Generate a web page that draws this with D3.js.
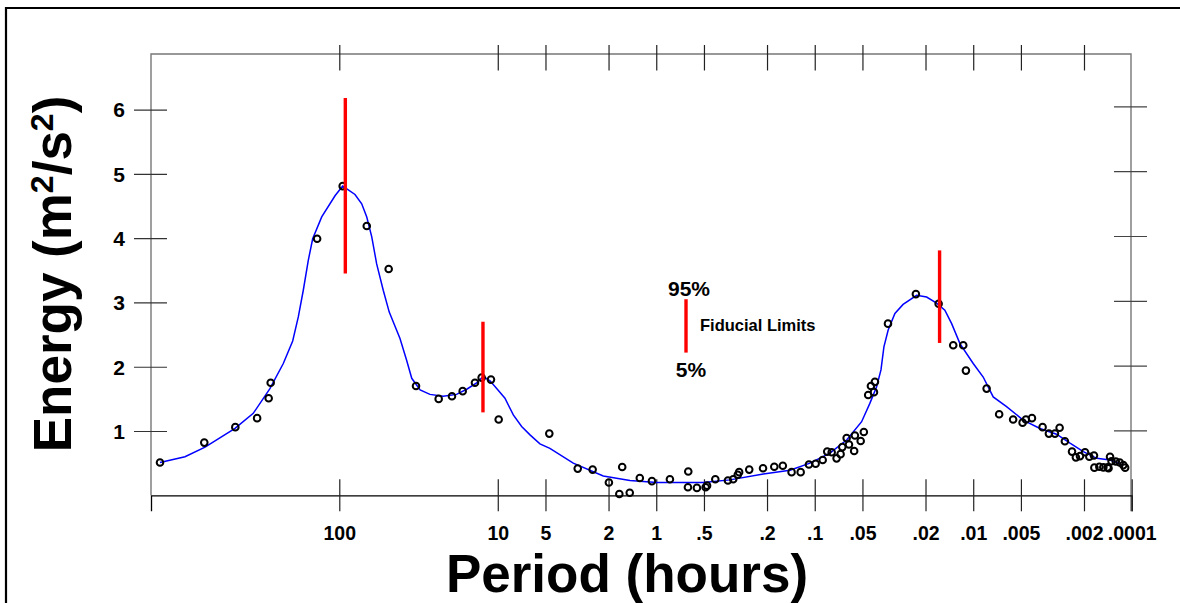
<!DOCTYPE html>
<html>
<head>
<meta charset="utf-8">
<script src="https://cdn.jsdelivr.net/npm/d3@7"></script>
<style>
  body { margin: 0; background: #fff; }
  svg { display: block; }
  text { font-family: "Liberation Sans", Arial, sans-serif; font-weight: bold; fill: #000; }
</style>
</head>
<body>
<svg id="chart" width="1180" height="603"></svg>
<script>
// Period axis ticks (hours) and their printed labels
const periodTicks = [100, 10, 5, 2, 1, 0.5, 0.2, 0.1, 0.05, 0.02, 0.01, 0.005, 0.002, 0.001];
const periodTickLabels = ["100", "10", "5", "2", "1", ".5", ".2", ".1", ".05", ".02", ".01", ".005", ".002", ".0001"];
const topPeriodTicks = [100, 10, 5, 2, 1, 0.5, 0.2, 0.1, 0.05, 0.02, 0.01, 0.005, 0.002];
const energyTicks = [1, 2, 3, 4, 5, 6];

// Smoothed spectrum (period in hours, energy in m^2/s^2)
const curvePeriod = [1353, 941, 703, 455, 349, 274, 225.6, 196.8, 181.4, 168.7, 156.9, 147.2, 129.1, 106.4, 95.2,
  79.6, 72.2, 67.1, 62.4, 58.1, 52.8, 48.4, 41.4, 37.6, 34.9, 30.9, 26.8, 22.1, 18.2, 15.7, 13.6, 12.35, 11.2,
  10.16, 9.01, 7.98, 7.07, 6.26, 5.42, 4.69, 3.34, 2.16, 1.466, 0.994, 0.505, 0.343, 0.211, 0.1433, 0.1072,
  0.0802, 0.0629, 0.0506, 0.0449, 0.0407, 0.0382, 0.0366, 0.0344, 0.0312, 0.0277, 0.02276, 0.01968, 0.01702,
  0.0151, 0.01368, 0.01213, 0.0100, 0.00865, 0.00748, 0.00616, 0.00484, 0.00379, 0.00298, 0.00245, 0.00202,
  0.00166, 0.00137, 0.00113];
const curveEnergy = [0.51, 0.60, 0.75, 1.04, 1.275, 1.66, 2.05, 2.40, 2.775, 3.19, 3.655, 3.99, 4.33, 4.66, 4.81,
  4.68, 4.535, 4.33, 4.02, 3.60, 3.19, 2.85, 2.44, 2.10, 1.82, 1.64, 1.57, 1.54, 1.57, 1.65, 1.75, 1.85, 1.78,
  1.66, 1.51, 1.25, 1.07, 0.94, 0.80, 0.73, 0.50, 0.30, 0.23, 0.20, 0.20, 0.24, 0.33, 0.39, 0.50,
  0.655, 0.86, 1.145, 1.43, 1.69, 1.95, 2.31, 2.57, 2.83, 2.97, 3.11, 3.085, 2.99,
  2.88, 2.67, 2.36, 2.05, 1.84, 1.53, 1.38, 1.17, 1.04, 0.95, 0.81, 0.68,
  0.575, 0.55, 0.47];

// Raw spectral estimates
const obsPeriod = [1353, 711, 453, 330, 279, 271, 138, 95.2, 67.1, 48.8, 32.8, 23.6, 19.45, 16.65, 13.93, 12.64,
  11.04, 9.87, 4.73, 3.13, 2.52, 1.99, 1.71, 1.64, 1.47, 1.27, 1.065, 0.82, 0.628, 0.631, 0.554, 0.488, 0.478,
  0.424, 0.353, 0.327, 0.306, 0.30, 0.259, 0.212, 0.180, 0.159, 0.140, 0.1227, 0.1088, 0.0987, 0.0891, 0.0834,
  0.0782, 0.0728, 0.0687, 0.067, 0.0629, 0.0608, 0.0564, 0.0558, 0.0513, 0.049, 0.046, 0.0442, 0.0423, 0.0417,
  0.0345, 0.023, 0.01653, 0.01337, 0.01156, 0.01112, 0.00823, 0.00686, 0.0056, 0.00488, 0.00465, 0.00426,
  0.00365, 0.00333, 0.00305, 0.00285, 0.00264, 0.00238, 0.00225, 0.00212, 0.00197, 0.00185, 0.00173, 0.00172,
  0.0016, 0.00151, 0.00142, 0.00140, 0.00137, 0.00134, 0.00126, 0.00119, 0.00113, 0.0011];
const obsEnergy = [0.51, 0.82, 1.06, 1.20, 1.51, 1.75, 3.99, 4.81, 4.19, 3.52, 1.70, 1.50, 1.54, 1.62, 1.75, 1.83,
  1.80, 1.18, 0.96, 0.415, 0.40, 0.20, 0.02, 0.44, 0.04, 0.27, 0.22, 0.25, 0.37, 0.125, 0.115, 0.125, 0.15,
  0.25, 0.23, 0.25, 0.32, 0.36, 0.40, 0.42, 0.445, 0.46, 0.36, 0.36, 0.48, 0.49, 0.55, 0.68,
  0.67, 0.575, 0.64, 0.75, 0.89, 0.79, 0.69, 0.93, 0.845, 0.985, 1.56, 1.70, 1.605, 1.765,
  2.67, 3.13, 2.98, 2.335, 2.335, 1.94, 1.66, 1.26, 1.18, 1.13, 1.18, 1.20,
  1.06, 0.96, 0.96, 1.05, 0.84, 0.68, 0.59, 0.61, 0.67, 0.60, 0.62, 0.43,
  0.445, 0.435, 0.435, 0.42, 0.60, 0.53, 0.525, 0.51, 0.47, 0.43];

// 5% / 95% fiducial limits at selected periods
const limitPeriod = [91.6, 12.4, 0.0163];
const limitLow = [3.45, 1.29, 2.37];
const limitHigh = [6.18, 2.70, 3.81];

// Legend bar placement (period, low, high)
const legendPeriod = 0.649;
const legendLow = 2.22;
const legendHigh = 3.05;

const svg = d3.select("#chart");
const W = 1180, H = 603;
const plot = { left: 151, right: 1131, top: 54, bottom: 495.3 };

const x = d3.scaleLog().domain([1542, 0.001]).range([plot.left, 1131.7]);
const y = d3.scaleLinear().domain([0, 6.865]).range([plot.bottom, plot.top]);
const yRight = d3.scaleLinear().domain([0, 6.807]).range([plot.bottom, plot.top]);

// outer frame
svg.append("path")
  .attr("d", `M6,${H + 10} L6,8 L${W + 10},8`)
  .attr("fill", "none").attr("stroke", "#000").attr("stroke-width", 2.2);

// plot frame: left, top, right in grey
svg.append("path")
  .attr("d", `M${plot.left},${plot.bottom} L${plot.left},${plot.top} L${plot.right},${plot.top} L${plot.right},${plot.bottom + 16}`)
  .attr("fill", "none").attr("stroke", "#777").attr("stroke-width", 1.4);

// bottom axis
const xAxis = d3.axisBottom(x).tickValues(periodTicks)
  .tickFormat((d, i) => periodTickLabels[i]).tickSize(16).tickPadding(0);
const gx = svg.append("g").attr("transform", `translate(0,${plot.bottom})`).call(xAxis);
gx.select(".domain").attr("stroke", "#000").attr("stroke-width", 1.3);
gx.selectAll(".tick line").attr("y1", -16).attr("stroke", "#222").attr("stroke-width", 1.2);
gx.selectAll(".tick text").attr("y", 44.5).attr("dy", 0)
  .style("font-size", "19.5px").style("font-family", "'Liberation Sans', Arial, sans-serif").style("font-weight", "bold")
  .attr("fill", "#000");

// top axis ticks
const xTop = d3.axisTop(x).tickValues(topPeriodTicks).tickFormat("").tickSize(9);
const gxt = svg.append("g").attr("transform", `translate(0,${plot.top})`).call(xTop);
gxt.select(".domain").remove();
gxt.selectAll(".tick line").attr("y1", 16.5).attr("stroke", "#222").attr("stroke-width", 1.2);

// left axis
const yAxis = d3.axisLeft(y).tickValues(energyTicks).tickFormat(d3.format("d")).tickSize(17).tickPadding(0);
const gy = svg.append("g").attr("transform", `translate(${plot.left},0)`).call(yAxis);
gy.select(".domain").remove();
gy.selectAll(".tick line").attr("x1", 16).attr("stroke", "#333").attr("stroke-width", 1.2);
gy.selectAll(".tick text").attr("x", -26).attr("dy", "0.35em")
  .style("font-size", "21px").style("font-family", "'Liberation Sans', Arial, sans-serif").style("font-weight", "bold")
  .attr("fill", "#000");

// right axis ticks
const yAxisR = d3.axisRight(yRight).tickValues(energyTicks).tickFormat("").tickSize(16);
const gyr = svg.append("g").attr("transform", `translate(${plot.right},0)`).call(yAxisR);
gyr.select(".domain").remove();
gyr.selectAll(".tick line").attr("x1", -17).attr("stroke", "#444").attr("stroke-width", 1.2);

// smoothed spectrum line
const curve = curvePeriod.map((p, i) => [p, curveEnergy[i]]);
svg.append("path")
  .datum(curve)
  .attr("d", d3.line().x(d => x(d[0])).y(d => y(d[1])).curve(d3.curveLinear))
  .attr("fill", "none").attr("stroke", "#0000ff").attr("stroke-width", 1.5);

// raw estimates
const obs = obsPeriod.map((p, i) => [p, obsEnergy[i]]);
svg.append("g").selectAll("circle").data(obs).join("circle")
  .attr("cx", d => x(d[0])).attr("cy", d => y(d[1])).attr("r", 3.3)
  .attr("fill", "none").attr("stroke", "#000").attr("stroke-width", 2);

// fiducial limit bars
svg.append("g").selectAll("line").data(limitPeriod).join("line")
  .attr("x1", d => x(d)).attr("x2", d => x(d))
  .attr("y1", (d, i) => y(limitHigh[i])).attr("y2", (d, i) => y(limitLow[i]))
  .attr("stroke", "#ff0000").attr("stroke-width", 3.4);

// legend
const lx = x(legendPeriod), lTop = y(legendHigh), lBot = y(legendLow);
svg.append("line").attr("x1", lx).attr("x2", lx).attr("y1", lTop).attr("y2", lBot)
  .attr("stroke", "#ff0000").attr("stroke-width", 3.4);
svg.append("text").attr("x", lx + 3).attr("y", lTop - 3).attr("text-anchor", "middle")
  .style("font-size", "21px").text("95%");
svg.append("text").attr("x", lx + 5).attr("y", lBot + 24).attr("text-anchor", "middle")
  .style("font-size", "21px").text("5%");
svg.append("text").attr("x", lx + 14).attr("y", (lTop + lBot) / 2 + 5.5)
  .style("font-size", "16.5px").text("Fiducial Limits");

// axis titles
svg.append("text").attr("x", 627).attr("y", 591.8).attr("text-anchor", "middle")
  .style("font-size", "53px").text("Period (hours)");

const yt = svg.append("text").attr("transform", "translate(70.5,274) rotate(-90)")
  .attr("text-anchor", "middle").style("font-size", "53px");
yt.append("tspan").text("Energy (m");
yt.append("tspan").attr("baseline-shift", "super").style("font-size", "32px").text("2");
yt.append("tspan").text("/s");
yt.append("tspan").attr("baseline-shift", "super").style("font-size", "32px").text("2");
yt.append("tspan").text(")");
</script>
</body>
</html>
